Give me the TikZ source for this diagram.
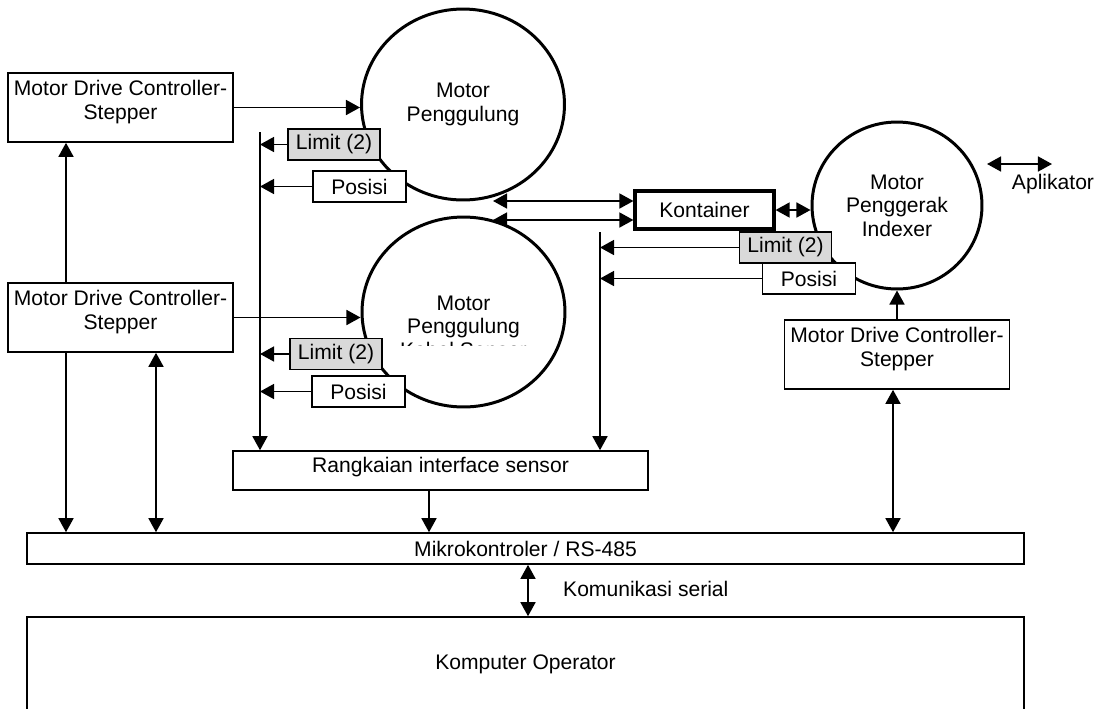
\documentclass[tikz,border=0pt]{standalone}
\usepackage{fontspec}
\setmainfont{Liberation Sans}
\usetikzlibrary{arrows.meta,shapes.geometric}

\begin{document}
\begin{tikzpicture}[x=0.02cm, y=-0.02cm, >={Triangle[length=8pt,width=8.5pt]},
    every node/.style={font=\fontsize{12}{13.3}\selectfont},
    box/.style={draw, line width=0.9pt, fill=white, align=center},
    mdc/.style={box, minimum width=4.46cm, minimum height=1.38cm},
    limbox/.style={box, fill=black!15, minimum width=1.84cm, minimum height=0.62cm, inner sep=1pt},
    posbox/.style={box, minimum width=1.86cm, minimum height=0.62cm, inner sep=1pt},
    motor/.style={ellipse, draw, line width=1.7pt, align=center, inner sep=0pt},
    link/.style={line width=1.1pt}]
    \path[use as bounding box, clip] (0,0) rectangle (1102,708);
    % Motors
    \node[motor, minimum width=4.06cm, minimum height=3.82cm] (circA) at (463,104.5) {Motor\\Penggulung};
    \node[motor, minimum width=4.06cm, minimum height=3.80cm] (circB) at (463.5,312) {};
    \node[motor, minimum width=3.40cm, minimum height=3.34cm] (circC) at (897,205.5) {Motor\\Penggerak\\Indexer};
    \begin{scope}
        \clip (circB.west |- circB.north) rectangle (circB.east |- 0,345);
        \node[align=center] (circBtxt) at (463.5,326.7) {Motor\\Penggulung\\Kabel Sensor};
    \end{scope}
    % Drivers
    \node[mdc] (mdcA) at (120.5,107.5) {Motor Drive Controller-\\Stepper\\[-4.5pt]\mbox{}};
    \node[mdc] (mdcB) at (120.5,317.5) {Motor Drive Controller-\\Stepper\\[-4.5pt]\mbox{}};
    \node[mdc, minimum width=4.48cm] (mdcC) at (897,354.5) {Motor Drive Controller-\\Stepper\\[-4.5pt]\mbox{}};
    % Sensors
    \node[limbox] (limA) at (334,144.5) {Limit (2)};
    \node[posbox] (posA) at (359.5,186.5) {Posisi};
    \node[limbox] (limB) at (336,354) {Limit (2)};
    \node[posbox] (posB) at (358.5,391.5) {Posisi};
    \node[limbox] (limC) at (785.5,247.5) {Limit (2)};
    \node[posbox] (posC) at (809,278.5) {Posisi};
    \node[box, line width=1.8pt, minimum width=2.78cm, minimum height=0.76cm] (kont) at (704.5,210) {Kontainer};
    \node[box, minimum width=8.3cm, minimum height=0.78cm, text depth=6pt] (sensor) at (440.5,470.5) {Rangkaian interface sensor};
    \node[box, minimum width=19.94cm, minimum height=0.62cm] (mikro) at (525.5,548.5) {Mikrokontroler / RS-485};
    \node[box, minimum width=19.94cm, minimum height=2.0cm, text depth=6pt] (komp) at (525.5,667) {Komputer Operator};
    % Labels
    \node (apl) at (1053,184) {Aplikator};
    \node[anchor=west] (kom) at (557,589) {Komunikasi serial};
    \coordinate (busA) at (260,132);
    \coordinate (busC) at (600,232);
    \coordinate (kontA) at (493,201);
    \coordinate (kontB) at (493,220);
    \coordinate (aplA) at (987,164);
    \coordinate (aplB) at (1052,164);
    % Drive lines
    \draw[link,->] (mdcA.east) -- (mdcA.east -| circA.west);
    \draw[link,->] (mdcB.east) -- (mdcB.east -| circB.west);
    \draw[link,->] (66,0 |- mdcB.north) -- (66,0 |- mdcA.south);
    \draw[link,->] (66,0 |- mdcB.south) -- (66,0 |- mikro.north);
    \draw[link,<->] (156,0 |- mdcB.south) -- (156,0 |- mikro.north);
    \draw[link,<->] (893,0 |- mikro.north) -- (893,0 |- mdcC.south);
    \draw[link,->] (mdcC.north) -- (circC.south);
    % Sensor buses
    \draw[link,->] (busA) -- (busA |- sensor.north);
    \foreach \s in {limA,posA,limB,posB}
        \draw[link,->] (\s.west) -- (\s.west -| busA);
    \draw[link,->] (busC) -- (busC |- sensor.north);
    \foreach \s in {limC,posC}
        \draw[link,->] (\s.west) -- (\s.west -| busC);
    \draw[link,->] (429,0 |- sensor.south) -- (429,0 |- mikro.north);
    % Container and applicator
    \draw[link,<->] (kontA) -- (kontA -| kont.west);
    \draw[link,<->] (kontB) -- (kontB -| kont.west);
    \draw[link,<->] (kont.east) -- (kont.east -| circC.west);
    \draw[link,<->] (aplA) -- (aplB);
    % Serial link
    \draw[link,<->] (528,0 |- mikro.south) -- (528,0 |- komp.north);
\end{tikzpicture}
\end{document}
